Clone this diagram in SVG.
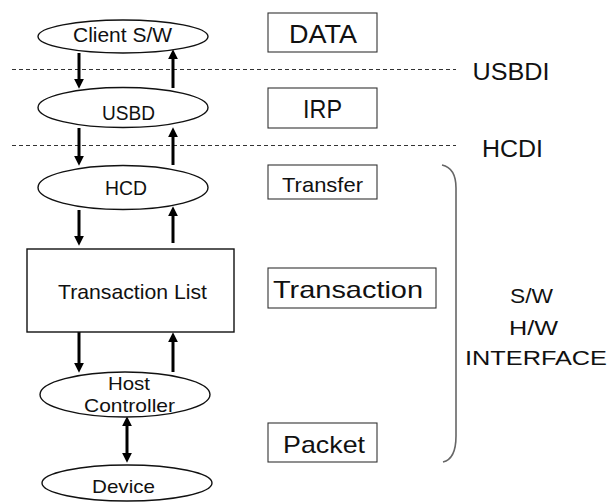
<svg xmlns="http://www.w3.org/2000/svg" width="616" height="503" viewBox="0 0 616 503">
  <style>
    .shape { fill: #ffffff; stroke: #111111; stroke-width: 1.4; }
    .box { fill: #ffffff; stroke: #333333; stroke-width: 1.1; }
    .lbl { font-family: "Liberation Sans", Arial, sans-serif; fill: #111111; text-anchor: middle; }
    .sep { stroke: #333333; stroke-width: 1; stroke-dasharray: 4 3; fill: none; }
    .flow { stroke: #000000; stroke-width: 3; fill: none; }
    .brace { stroke: #666666; stroke-width: 1.6; fill: none; }
  </style>
  <defs>
    <marker id="head" markerUnits="userSpaceOnUse" markerWidth="10" markerHeight="10" viewBox="0 0 9 9" refX="2" refY="4.5" orient="auto-start-reverse">
      <path d="M0,0 L9,4.5 L0,9 z" fill="#000000"/>
    </marker>
  </defs>
  <rect width="616" height="503" fill="#ffffff"/>

  <!-- interface boundaries -->
  <g id="boundaries">
    <line class="sep" x1="12" y1="69.5" x2="456" y2="69.5"/>
    <line class="sep" x1="12" y1="145.5" x2="456" y2="145.5"/>
    <text class="lbl" x="511" y="80" font-size="23" textLength="77" lengthAdjust="spacingAndGlyphs">USBDI</text>
    <text class="lbl" x="512.5" y="157" font-size="23" textLength="61" lengthAdjust="spacingAndGlyphs">HCDI</text>
  </g>

  <!-- connectors -->
  <g id="connectors">
    <line class="flow" x1="79" y1="53" x2="79" y2="81" marker-end="url(#head)"/>
    <line class="flow" x1="173" y1="88" x2="173" y2="57" marker-end="url(#head)"/>
    <line class="flow" x1="79" y1="128" x2="79" y2="158" marker-end="url(#head)"/>
    <line class="flow" x1="173" y1="165" x2="173" y2="135" marker-end="url(#head)"/>
    <line class="flow" x1="79" y1="210" x2="79" y2="238" marker-end="url(#head)"/>
    <line class="flow" x1="173" y1="243" x2="173" y2="214" marker-end="url(#head)"/>
    <line class="flow" x1="79" y1="332" x2="79" y2="365" marker-end="url(#head)"/>
    <line class="flow" x1="173" y1="372" x2="173" y2="340" marker-end="url(#head)"/>
    <line class="flow" x1="127" y1="424" x2="127" y2="455" marker-start="url(#head)" marker-end="url(#head)"/>
  </g>

  <!-- stack nodes -->
  <g id="client-sw">
    <ellipse class="shape" cx="123" cy="36.5" rx="85" ry="16.5"/>
    <text class="lbl" x="122.5" y="42" font-size="19.5" textLength="99" lengthAdjust="spacingAndGlyphs">Client S/W</text>
  </g>
  <g id="usbd">
    <ellipse class="shape" cx="123" cy="107.5" rx="85" ry="20"/>
    <text class="lbl" x="128.5" y="120" font-size="20" textLength="53" lengthAdjust="spacingAndGlyphs">USBD</text>
  </g>
  <g id="hcd">
    <ellipse class="shape" cx="123" cy="187.5" rx="85" ry="22"/>
    <text class="lbl" x="126" y="195" font-size="20" textLength="42" lengthAdjust="spacingAndGlyphs">HCD</text>
  </g>
  <g id="transaction-list">
    <rect class="shape" x="27" y="249" width="207" height="83"/>
    <text class="lbl" x="132.5" y="299" font-size="21" textLength="149" lengthAdjust="spacingAndGlyphs">Transaction List</text>
  </g>
  <g id="host-controller">
    <ellipse class="shape" cx="125" cy="394.5" rx="85" ry="22.5"/>
    <text class="lbl" x="129" y="390" font-size="19" textLength="42" lengthAdjust="spacingAndGlyphs">Host</text>
    <text class="lbl" x="129.5" y="412" font-size="19" textLength="91" lengthAdjust="spacingAndGlyphs">Controller</text>
  </g>
  <g id="device">
    <ellipse class="shape" cx="127" cy="483" rx="85" ry="18"/>
    <text class="lbl" x="123.5" y="493" font-size="19" textLength="63" lengthAdjust="spacingAndGlyphs">Device</text>
  </g>

  <!-- data units -->
  <g id="data">
    <rect class="box" x="268" y="13" width="109" height="39"/>
    <text class="lbl" x="323" y="43" font-size="25" textLength="68" lengthAdjust="spacingAndGlyphs">DATA</text>
  </g>
  <g id="irp">
    <rect class="box" x="268" y="88" width="109" height="40"/>
    <text class="lbl" x="322.5" y="118" font-size="25" textLength="39" lengthAdjust="spacingAndGlyphs">IRP</text>
  </g>
  <g id="transfer">
    <rect class="box" x="268" y="165" width="109" height="34"/>
    <text class="lbl" x="322.5" y="192" font-size="21" textLength="81" lengthAdjust="spacingAndGlyphs">Transfer</text>
  </g>
  <g id="transaction">
    <rect class="box" x="268" y="268" width="168" height="40"/>
    <text class="lbl" x="348" y="298" font-size="24" textLength="150" lengthAdjust="spacingAndGlyphs">Transaction</text>
  </g>
  <g id="packet">
    <rect class="box" x="268" y="423" width="109" height="39"/>
    <text class="lbl" x="324" y="453" font-size="24" textLength="82" lengthAdjust="spacingAndGlyphs">Packet</text>
  </g>

  <!-- bracket grouping the lower layers -->
  <g id="interface">
    <path class="brace" d="M442,165 Q456,168 456,188 L456,436 Q456,459 443,462"/>
    <text class="lbl" x="531.5" y="303" font-size="21" textLength="43" lengthAdjust="spacingAndGlyphs">S/W</text>
    <text class="lbl" x="533.5" y="335" font-size="21" textLength="49" lengthAdjust="spacingAndGlyphs">H/W</text>
    <text class="lbl" x="536" y="365" font-size="21" textLength="142" lengthAdjust="spacingAndGlyphs">INTERFACE</text>
  </g>
</svg>
